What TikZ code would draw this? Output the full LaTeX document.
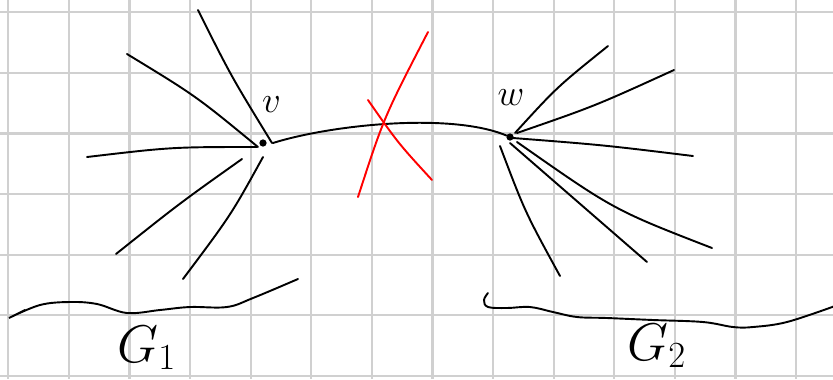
\documentclass[tikz,border=0pt]{standalone}
\usetikzlibrary{calc}
\definecolor{gridgray}{HTML}{D0D0D0}
\definecolor{penred}{HTML}{FF0000}
\tikzset{
  paper/.style={gridgray, line width=1pt},
  edge/.style={black, line width=0.9pt, line cap=round},
  cut/.style={penred, line width=0.9pt, line cap=round},
  vertex/.style={circle, fill=black, inner sep=0pt, minimum size=1.2mm},
  letter/.style={inner sep=0pt, font=\fontsize{18}{20}\selectfont},
  graphname/.style={inner sep=0pt, font=\fontsize{24}{27}\selectfont},
}

\begin{document}
\begin{tikzpicture}[x=0.0165cm, y=-0.0165cm]
  \useasboundingbox (0,0) rectangle (833,379);
  % squared paper
  \foreach \gx in {0,...,13} \draw[paper] (8.3+60.6*\gx,0) -- (8.3+60.6*\gx,379);
  \foreach \gy in {0,...,6} \draw[paper] (0,12.3+60.6*\gy) -- (833,12.3+60.6*\gy);

  \node[vertex] (v) at (263,143) {};
  \node[vertex] (w) at (510,137) {};
  \node[letter, anchor=base] (vlabel) at (271.5,112) {$v$};
  \node[letter, anchor=base] (wlabel) at (511,105) {$w$};

  % edges at v
  \foreach \sx/\sy/\cx/\cy/\ex/\ey [count=\i] in {
      9/0/231/76/198/10,
      -5/4/196/96/127/54,
      -6/4/172/147/87/157,
      -21/16/180/203/116/254,
      0/14/231/215/183/279}{
    \coordinate (vend\i) at (\ex,\ey);
    \draw[edge] ([shift={(\sx,\sy)}]v.center) .. controls (\cx,\cy) .. (vend\i);
  }
  % edges at w
  \foreach \sx/\sy/\cx/\cy/\ex/\ey [count=\i] in {
      5/-4/557/87/608/46,
      7/-4/595/106/674/70,
      3/1/603/145/693/156,
      7/5/614/210/712/248,
      0/6/578/203/647/262,
      -10/9/525/212/560/276}{
    \coordinate (wend\i) at (\ex,\ey);
    \draw[edge] ([shift={(\sx,\sy)}]w.center) .. controls (\cx,\cy) .. (wend\i);
  }
  % the bridge v--w
  \draw[edge] ([shift={(10,0)}]v.center) .. controls (330,125) and (450,112) .. (w);

  % crossed out
  \coordinate (cutA) at (358,197);
  \coordinate (cutB) at (428,32);
  \coordinate (cutC) at (368,100);
  \coordinate (cutD) at (432,180);
  \draw[cut] (cutA) .. controls (384,117) .. (cutB);
  \draw[cut] (cutC) .. controls (398,143) .. (cutD);

  % the two sides
  \draw[edge] (25,310) -- plot[smooth, tension=0.6] coordinates {(9,318) (40,305)
    (70,302) (97,304) (127,313) (160,310) (190,307) (227,307) (253,298) (298,279)};
  \draw[edge] plot[smooth, tension=0.6] coordinates {(488,293) (484,300) (488,307)
    (507,308) (530,307) (553,312) (577,317) (607,318) (653,320) (703,322) (733,327)
    (753,327) (787,322) (835,306)};
  \node[graphname, anchor=base west] (g1) at (117,362) {$G_1$};
  \node[graphname, anchor=base west] (g2) at (627,360) {$G_2$};
\end{tikzpicture}
\end{document}
